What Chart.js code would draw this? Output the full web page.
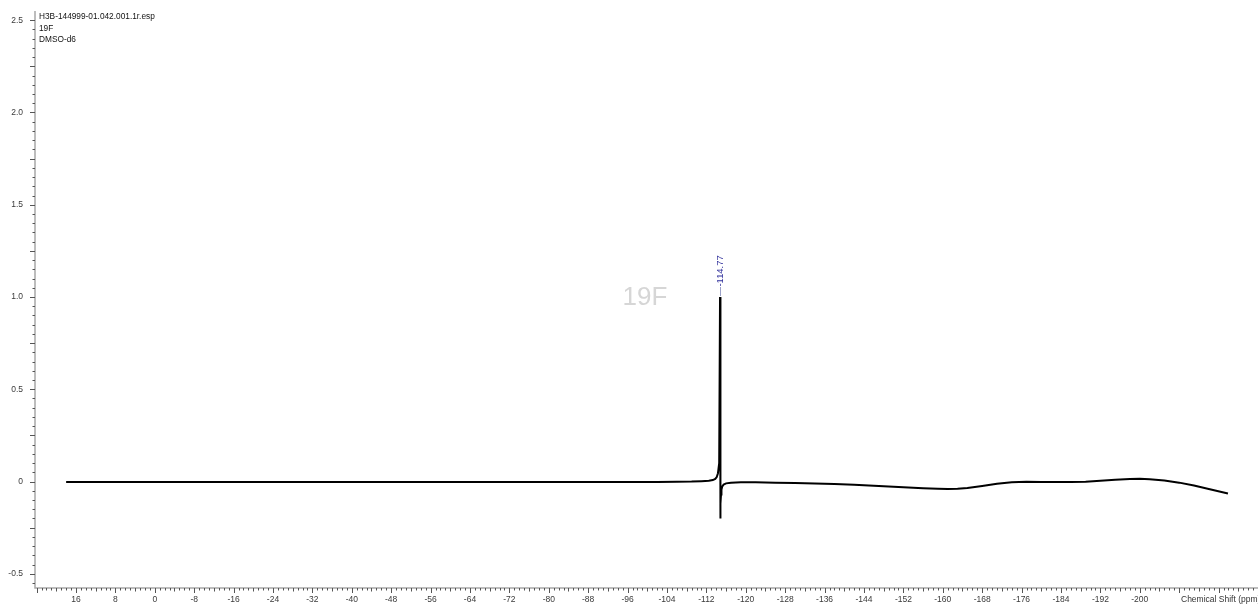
<!DOCTYPE html>
<html>
<head>
<meta charset="utf-8">
<script src="https://cdn.jsdelivr.net/npm/chart.js@4.4.0/dist/chart.umd.min.js"></script>
<style>
  html, body { margin: 0; padding: 0; background: #ffffff; overflow: hidden; }
  #wrap { width: 1258px; height: 604px; position: relative; }
</style>
</head>
<body>
<div id="wrap"><canvas id="spectrum" width="1258" height="604"></canvas></div>
<script>
// Spectrum header and annotation text
const headerLines = ['H3B-144999-01.042.001.1r.esp', '19F', 'DMSO-d6'];
const watermarkText = '19F';
const axisTitle = 'Chemical Shift (ppm)';

// 19F spectrum trace: chemical shift (ppm) and intensity
const shiftPpm = [
  18, 14, 10, 6, 2, -2, -6, -10, -14, -18, -22, -26, -30, -34, -38, -42, -46, -50,
  -54, -58, -62, -66, -70, -74, -78, -82, -86, -90, -94, -98, -102, -106, -109, -111,
  -112.5, -113.3, -113.8, -114.1, -114.35, -114.6, -114.77, -114.81, -114.85,
  -114.9, -114.97, -115.06, -115.2, -115.5, -116, -117, -119, -122, -126, -130, -134,
  -138, -142, -146, -150, -153, -156, -159, -161, -163, -165, -168, -171, -174, -177,
  -180, -183, -186, -189, -192, -195, -198, -200, -202, -205, -208, -211, -214, -217.9
];
const intensity = [
  -0.002, -0.003, -0.002, -0.003, -0.003, -0.002, -0.003, -0.003, -0.002, -0.003, -0.002, -0.003, -0.003, -0.002, -0.003, -0.003, -0.002, -0.003,
  -0.003, -0.002, -0.003, -0.003, -0.003, -0.002, -0.003, -0.003, -0.002, -0.003, -0.002, -0.002, -0.002, -0.001, 0.000, 0.002,
  0.004, 0.008, 0.014, 0.024, 0.045, 0.1, 1.0, 0.25, -0.2,
  -0.12, -0.07, -0.045, -0.028, -0.016, -0.010, -0.006, -0.004, -0.004, -0.006, -0.008, -0.011,
  -0.014, -0.018, -0.023, -0.028, -0.032, -0.036, -0.039, -0.040, -0.039, -0.035, -0.024, -0.012, -0.004, -0.001,
  -0.002, -0.003, -0.003, -0.001, 0.004, 0.010, 0.014, 0.015, 0.013, 0.006, -0.006, -0.022, -0.040, -0.065
];

// Picked peak
const peakPpm = [-114.77];
const peakHeight = [1.0];

// Axis ranges and labelled ticks
const xRange = { min: -224.0, max: 24.32 };
const yRange = { min: -0.577, max: 2.55 };
const xLabelTicks = [16, 8, 0, -8, -16, -24, -32, -40, -48, -56, -64, -72, -80, -88, -96, -104,
  -112, -120, -128, -136, -144, -152, -160, -168, -176, -184, -192, -200];
const yLabelTicks = [-0.5, 0, 0.5, 1.0, 1.5, 2.0, 2.5];

const FONT = '"Liberation Sans", Arial, sans-serif';
const tickFont = { family: FONT, size: 8.5 };

function near(a, b) { return Math.abs(a - b) < 1e-6; }

// Axes, tick marks, header text and peak annotation
const spectrumDecor = {
  id: 'spectrumDecor',
  beforeDatasetsDraw(chart) {
    const ctx = chart.ctx;
    ctx.save();
    ctx.fillStyle = '#d6d6d6';
    ctx.font = '26px ' + FONT;
    ctx.textAlign = 'center';
    ctx.textBaseline = 'middle';
    ctx.fillText(watermarkText, 645, 298);
    ctx.restore();
  },
  afterDraw(chart) {
    const ctx = chart.ctx;
    const area = chart.chartArea;
    const xs = chart.scales.x;
    const ys = chart.scales.y;
    ctx.save();

    // axis lines
    ctx.strokeStyle = '#a8a8a8';
    ctx.lineWidth = 1.5;
    ctx.beginPath();
    ctx.moveTo(area.left, area.top);
    ctx.lineTo(area.left, area.bottom);
    ctx.lineTo(chart.width, area.bottom);
    ctx.stroke();

    // y tick marks
    ctx.strokeStyle = '#555555';
    ctx.lineWidth = 1;
    ys.ticks.forEach(t => {
      const v = t.value;
      const k = Math.round(v / 0.05);
      if (!near(v, k * 0.05)) return;
      const len = (k % 5 === 0) ? 5 : 2.5;
      const py = Math.round(ys.getPixelForValue(v)) + 0.5;
      ctx.beginPath();
      ctx.moveTo(area.left - len, py);
      ctx.lineTo(area.left, py);
      ctx.stroke();
    });

    // x tick marks
    xs.ticks.forEach(t => {
      const v = t.value;
      if (!near(v, Math.round(v))) return;
      const r = Math.round(v);
      const len = (r % 8 === 0) ? 5 : (r % 4 === 0 ? 3.5 : 2.5);
      const px = Math.round(xs.getPixelForValue(v)) + 0.5;
      ctx.beginPath();
      ctx.moveTo(px, area.bottom);
      ctx.lineTo(px, area.bottom + len);
      ctx.stroke();
    });

    // axis title
    ctx.fillStyle = '#333333';
    ctx.font = '8.5px ' + FONT;
    ctx.textAlign = 'left';
    ctx.textBaseline = 'middle';
    ctx.fillText(axisTitle, 1181, 599.5);

    // header
    ctx.fillStyle = '#111111';
    ctx.font = '8.3px ' + FONT;
    headerLines.forEach((line, i) => ctx.fillText(line, 39, 17 + i * 11.5));

    // peak label
    peakPpm.forEach((p, i) => {
      const px = xs.getPixelForValue(p);
      const py = ys.getPixelForValue(peakHeight[i]);
      ctx.strokeStyle = '#9aa0c8';
      ctx.lineWidth = 1;
      ctx.beginPath();
      ctx.moveTo(Math.round(px) + 0.5, py - 1);
      ctx.lineTo(Math.round(px) + 0.5, py - 10);
      ctx.stroke();
      ctx.save();
      ctx.translate(px + 0.5, py - 10.5);
      ctx.rotate(-Math.PI / 2);
      ctx.fillStyle = '#2d2d9a';
      ctx.font = '9.4px ' + FONT;
      ctx.textAlign = 'left';
      ctx.textBaseline = 'middle';
      ctx.fillText(p.toFixed(2), 0, 0);
      ctx.restore();
    });

    ctx.restore();
  }
};

new Chart(document.getElementById('spectrum'), {
  type: 'line',
  data: {
    datasets: [{
      data: shiftPpm.map((x, i) => ({ x: x, y: intensity[i] })),
      borderColor: '#000000',
      borderWidth: 2,
      pointRadius: 0,
      tension: 0,
      fill: false
    }]
  },
  options: {
    responsive: false,
    animation: false,
    events: [],
    layout: { padding: { top: 11, right: 0, left: 0, bottom: 0 } },
    plugins: { legend: { display: false }, tooltip: { enabled: false } },
    scales: {
      x: {
        type: 'linear',
        reverse: true,
        min: xRange.min,
        max: xRange.max,
        afterFit(scale) {
          scale.height = 16;
          scale.paddingLeft = 0; scale.paddingRight = 0;
          scale.paddingTop = 0; scale.paddingBottom = 0;
        },
        grid: { display: false, drawTicks: false },
        border: { display: false },
        ticks: {
          stepSize: 1,
          includeBounds: false,
          autoSkip: false,
          maxRotation: 0,
          minRotation: 0,
          padding: 7,
          font: tickFont,
          color: '#3a3a3a',
          callback(v) {
            const hit = xLabelTicks.find(t => near(t, v));
            return hit === undefined ? '' : String(hit);
          }
        }
      },
      y: {
        type: 'linear',
        min: yRange.min,
        max: yRange.max,
        afterFit(scale) {
          scale.width = 35;
          scale.paddingLeft = 0; scale.paddingRight = 0;
          scale.paddingTop = 0; scale.paddingBottom = 0;
        },
        grid: { display: false, drawTicks: false },
        border: { display: false },
        ticks: {
          stepSize: 0.05,
          includeBounds: false,
          autoSkip: false,
          padding: 12,
          font: tickFont,
          color: '#3a3a3a',
          callback(v) {
            const hit = yLabelTicks.find(t => near(t, v));
            if (hit === undefined) return '';
            return hit === 0 ? '0' : hit.toFixed(1);
          }
        }
      }
    }
  },
  plugins: [spectrumDecor]
});
</script>
</body>
</html>
